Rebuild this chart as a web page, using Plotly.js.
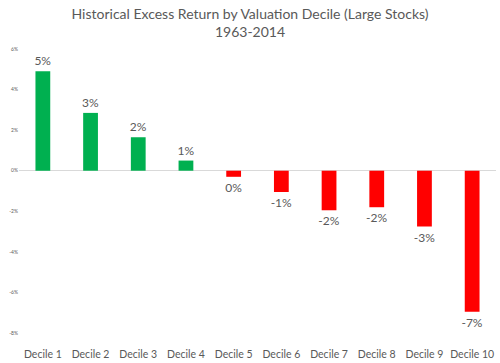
<!DOCTYPE html>
<html>
<head>
<meta charset="utf-8">
<script src="https://cdn.plot.ly/plotly-3.0.1.min.js"></script>
<style>html,body{margin:0;padding:0;background:#fff;}#chart{width:500px;height:363px;}</style>
</head>
<body>
<div id="chart"></div>
<script>
const categories = ["Decile 1","Decile 2","Decile 3","Decile 4","Decile 5","Decile 6","Decile 7","Decile 8","Decile 9","Decile 10"];
const excessReturn = [4.9, 2.85, 1.65, 0.5, -0.3, -1.05, -1.95, -1.8, -2.75, -6.95];
const yTicks = [-8, -6, -4, -2, 0, 2, 4, 6];

const colors = excessReturn.map(v => v >= 0 ? "#00B050" : "#FF0000");
const labels = excessReturn.map(v => String(Math.round(v)) + "%");

const trace = {
  type: "bar",
  x: categories,
  y: excessReturn,
  marker: {color: colors},
  text: labels,
  textposition: "outside",
  constraintext: "none",
  textfont: {family: "Lato, 'Open Sans', sans-serif", size: 12, color: "#595959"},
  cliponaxis: false,
  hoverinfo: "none"
};

const layout = {
  width: 500, height: 363,
  margin: {l: 19, r: 4, t: 49, b: 30},
  paper_bgcolor: "#fff", plot_bgcolor: "#fff",
  bargap: 0.69,
  showlegend: false,
  font: {family: "Lato, 'Open Sans', sans-serif", color: "#595959"},
  title: {
    text: "Historical Excess Return by Valuation Decile (Large Stocks)<br>1963-2014",
    font: {family: "Lato, 'Open Sans', sans-serif", size: 14, color: "#595959"},
    x: 0.5, xanchor: "center", y: 0.948, yanchor: "top", yref: "container"
  },
  xaxis: {
    showgrid: false, showline: false, zeroline: false, ticks: "",
    tickfont: {size: 10.5, color: "#595959"},
    ticklabelstandoff: 13,
    fixedrange: true
  },
  yaxis: {
    range: [-8, 6],
    tickvals: yTicks,
    ticktext: yTicks.map(v => v + "%"),
    showgrid: false, showline: false, ticks: "",
    zeroline: true, zerolinecolor: "#D9D9D9", zerolinewidth: 1,
    tickfont: {size: 5, color: "#595959"},
    fixedrange: true
  }
};

Plotly.newPlot("chart", [trace], layout, {displayModeBar: false, staticPlot: true});
</script>
</body>
</html>
